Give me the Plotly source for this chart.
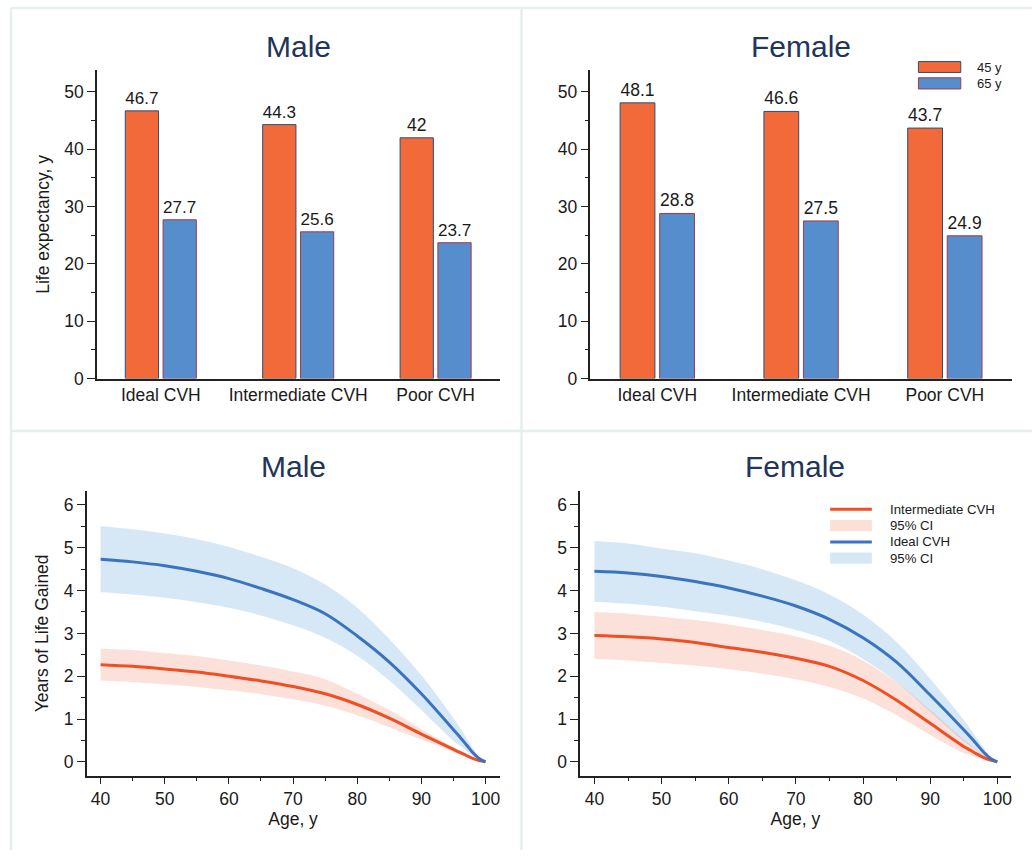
import plotly.graph_objects as go

# ---------------- data ----------------
categories = ["Ideal CVH", "Intermediate CVH", "Poor CVH"]
male_45 = [46.7, 44.3, 42]
male_65 = [27.7, 25.6, 23.7]
female_45 = [48.1, 46.6, 43.7]
female_65 = [28.8, 27.5, 24.9]

ages = [40, 45, 50, 55, 60, 65, 70, 75, 80, 85, 90, 95, 96, 97, 98, 99, 100]

male_ideal = [4.73, 4.67, 4.58, 4.45, 4.28, 4.05, 3.79, 3.46, 2.94, 2.33, 1.59, 0.75, 0.58, 0.40, 0.22, 0.08, 0]
male_ideal_hi = [5.50, 5.43, 5.33, 5.20, 5.02, 4.79, 4.52, 4.14, 3.60, 2.87, 2.02, 1.02, 0.80, 0.56, 0.33, 0.12, 0]
male_ideal_lo = [3.96, 3.91, 3.83, 3.73, 3.60, 3.42, 3.19, 2.90, 2.48, 1.90, 1.21, 0.49, 0.38, 0.26, 0.14, 0.05, 0]
male_inter = [2.27, 2.23, 2.17, 2.10, 2.00, 1.89, 1.76, 1.59, 1.34, 1.02, 0.65, 0.29, 0.22, 0.15, 0.08, 0.03, 0]
male_inter_hi = [2.65, 2.61, 2.54, 2.47, 2.37, 2.25, 2.11, 1.93, 1.59, 1.21, 0.77, 0.34, 0.26, 0.18, 0.10, 0.04, 0]
male_inter_lo = [1.90, 1.86, 1.81, 1.75, 1.67, 1.58, 1.46, 1.31, 1.09, 0.81, 0.52, 0.23, 0.17, 0.12, 0.07, 0.02, 0]

female_ideal = [4.45, 4.41, 4.33, 4.21, 4.06, 3.87, 3.64, 3.33, 2.90, 2.33, 1.56, 0.75, 0.58, 0.40, 0.22, 0.08, 0]
female_ideal_hi = [5.16, 5.10, 4.98, 4.87, 4.70, 4.50, 4.24, 3.91, 3.44, 2.80, 1.94, 0.98, 0.77, 0.54, 0.32, 0.12, 0]
female_ideal_lo = [3.74, 3.69, 3.62, 3.52, 3.41, 3.27, 3.08, 2.83, 2.40, 1.86, 1.17, 0.48, 0.37, 0.25, 0.13, 0.04, 0]
female_inter = [2.95, 2.92, 2.87, 2.79, 2.67, 2.56, 2.42, 2.23, 1.90, 1.44, 0.90, 0.36, 0.27, 0.18, 0.10, 0.04, 0]
female_inter_hi = [3.50, 3.46, 3.39, 3.31, 3.21, 3.08, 2.93, 2.71, 2.37, 1.86, 1.21, 0.52, 0.40, 0.27, 0.15, 0.05, 0]
female_inter_lo = [2.40, 2.37, 2.31, 2.25, 2.16, 2.06, 1.93, 1.75, 1.48, 1.09, 0.63, 0.21, 0.16, 0.10, 0.06, 0.02, 0]

bar_series = ["45 y", "65 y"]
curve_legend = ["Intermediate CVH", "95% CI", "Ideal CVH", "95% CI"]

# ---------------- style ----------------
W, H = 1033, 860
FONT = "Liberation Sans, Arial, Helvetica, sans-serif"
C_ORANGE_BAR = "#F26A3A"
C_BLUE_BAR = "#568ECD"
C_ORANGE_EDGE = "#2E4D73"
C_BLUE_EDGE = "#A03A4C"
C_LINE_OR = "#F04E23"
C_LINE_BL = "#3B73BF"
C_BAND_OR = "rgba(243,120,85,0.22)"
C_BAND_BL = "rgba(90,165,220,0.25)"
TITLE_COLOR = "#22345A"
AX = "#222222"
SMOOTH = 1.0


def fx(p):
    return p / W


def fy(p):
    return (H - p) / H


fig = go.Figure()

# ---------- bars ----------
for (v45, v65, xa, ya) in [(male_45, male_65, "x", "y"), (female_45, female_65, "x2", "y2")]:
    fig.add_trace(go.Bar(x=categories, y=v45, name=bar_series[0], xaxis=xa, yaxis=ya,
                         marker=dict(color=C_ORANGE_BAR, line=dict(color=C_ORANGE_EDGE, width=1)),
                         text=[f"{v:g}" for v in v45], textposition="outside",
                         textfont=dict(size=17.5, color="#1a1a1a", family=FONT),
                         cliponaxis=False, showlegend=False))
    fig.add_trace(go.Bar(x=categories, y=v65, name=bar_series[1], xaxis=xa, yaxis=ya,
                         marker=dict(color=C_BLUE_BAR, line=dict(color=C_BLUE_EDGE, width=1)),
                         text=[f"{v:g}" for v in v65], textposition="outside",
                         textfont=dict(size=17.5, color="#1a1a1a", family=FONT),
                         cliponaxis=False, showlegend=False))

# ---------- curves ----------
def add_band(lo, hi, color, xa, ya, name):
    fig.add_trace(go.Scatter(x=ages, y=lo, mode="lines", line=dict(width=0, shape="spline", smoothing=SMOOTH),
                             xaxis=xa, yaxis=ya, showlegend=False, hoverinfo="skip"))
    fig.add_trace(go.Scatter(x=ages, y=hi, mode="lines", line=dict(width=0, shape="spline", smoothing=SMOOTH),
                             fill="tonexty", fillcolor=color, xaxis=xa, yaxis=ya,
                             name=name, showlegend=False))


def add_line(v, color, xa, ya, name):
    fig.add_trace(go.Scatter(x=ages, y=v, mode="lines",
                             line=dict(color=color, width=3, shape="spline", smoothing=SMOOTH),
                             xaxis=xa, yaxis=ya, name=name, showlegend=False))


for (ih, il, im, dh, dl, dm, xa, ya) in [
    (male_inter_hi, male_inter_lo, male_inter, male_ideal_hi, male_ideal_lo, male_ideal, "x3", "y3"),
    (female_inter_hi, female_inter_lo, female_inter, female_ideal_hi, female_ideal_lo, female_ideal, "x4", "y4"),
]:
    add_band(dl, dh, C_BAND_BL, xa, ya, "95% CI")
    add_band(il, ih, C_BAND_OR, xa, ya, "95% CI")
    add_line(im, C_LINE_OR, xa, ya, "Intermediate CVH")
    add_line(dm, C_LINE_BL, xa, ya, "Ideal CVH")

# ---------- axes ----------
tickfont = dict(size=17.5, color="#1a1a1a", family=FONT)
titlefont = dict(size=17.5, color="#1a1a1a", family=FONT)

bar_x_common = dict(type="category", range=[-0.465, 2.465], showline=True, linecolor=AX, linewidth=1.5,
                    ticks="", showgrid=False, zeroline=False, tickfont=tickfont, fixedrange=True)
bar_y_common = dict(range=[0, 53.8], showline=True, linecolor=AX, linewidth=1.5, ticks="outside",
                    ticklen=8, tickwidth=1.3, tickcolor=AX, dtick=10, tick0=0,
                    minor=dict(dtick=5, ticklen=4, ticks="outside", tickcolor=AX, tickwidth=1.3),
                    showgrid=False, zeroline=False, tickfont=tickfont)

curve_x_common = dict(showline=True, linecolor=AX, linewidth=1.5, ticks="outside", ticklen=7, tickwidth=1.3,
                      tickcolor=AX, dtick=10, tick0=0,
                      minor=dict(dtick=5, ticklen=4, ticks="outside", tickcolor=AX, tickwidth=1.3),
                      showgrid=False, zeroline=False, tickfont=tickfont,
                      title=dict(text="Age, y", font=titlefont, standoff=4))
curve_y_common = dict(range=[-0.32, 6.32], showline=True, linecolor=AX, linewidth=1.5, ticks="outside",
                      ticklen=8, tickwidth=1.3, tickcolor=AX, dtick=1, tick0=0,
                      minor=dict(dtick=0.5, ticklen=4, ticks="outside", tickcolor=AX, tickwidth=1.3),
                      showgrid=False, zeroline=False, tickfont=tickfont)

fig.update_layout(
    xaxis=dict(domain=[fx(97), fx(500)], anchor="y", **bar_x_common),
    yaxis=dict(domain=[fy(383), fy(71)], anchor="x",
               title=dict(text="Life expectancy, y", font=titlefont, standoff=10), **bar_y_common),
    xaxis2=dict(domain=[fx(591), fx(1012.7)], anchor="y2", **bar_x_common),
    yaxis2=dict(domain=[fy(383), fy(71)], anchor="x2", **bar_y_common),
    xaxis3=dict(domain=[fx(86.7), fx(500)], anchor="y3", range=[37.82, 102.18], **curve_x_common),
    yaxis3=dict(domain=[fy(784.7), fy(497)], anchor="x3",
                title=dict(text="Years of Life Gained", font=titlefont, standoff=10), **curve_y_common),
    xaxis4=dict(domain=[fx(580.7), fx(1011.7)], anchor="y4", range=[37.87, 102.0], **curve_x_common),
    yaxis4=dict(domain=[fy(784.7), fy(497)], anchor="x4", **curve_y_common),
    barmode="group", bargap=0.45, bargroupgap=0.12,
    width=W, height=H, margin=dict(l=0, r=0, t=0, b=0),
    paper_bgcolor="white", plot_bgcolor="white",
    font=dict(family=FONT, color="#1a1a1a"),
    showlegend=False,
)

# ---------- panel frames ----------
frame = dict(type="line", xref="paper", yref="paper", line=dict(color="#E6EFEE", width=2.5), layer="below")
shapes = [
    dict(x0=fx(11), x1=fx(11), y0=fy(8), y1=fy(860), **frame),
    dict(x0=fx(522), x1=fx(522), y0=fy(8), y1=fy(860), **frame),
    dict(x0=fx(11), x1=fx(1033), y0=fy(8), y1=fy(8), **frame),
    dict(x0=fx(11), x1=fx(1033), y0=fy(436), y1=fy(436), **frame),
]

# ---------- custom legends ----------
annotations = []
leg_rows = [(62.3, 73.3, C_ORANGE_BAR, C_ORANGE_EDGE), (78.7, 90.0, C_BLUE_BAR, C_BLUE_EDGE)]
for name, (t, b, fc, ec) in zip(bar_series, leg_rows):
    shapes.append(dict(type="rect", xref="paper", yref="paper", x0=fx(919.3), x1=fx(961.7),
                       y0=fy(b), y1=fy(t), fillcolor=fc, line=dict(color=ec, width=1)))
    annotations.append(dict(text=name, xref="paper", yref="paper", x=fx(976), y=fy((t + b) / 2),
                            xanchor="left", yanchor="middle", showarrow=False,
                            font=dict(size=13, color="#1a1a1a", family=FONT)))
rows_y = [515.3, 531.8, 548.3, 564.7]
kinds = [("line", C_LINE_OR), ("rect", "#FBE0D8"), ("line", C_LINE_BL), ("rect", "#D6E8F5")]
for name, yy, (kind, col) in zip(curve_legend, rows_y, kinds):
    if kind == "line":
        shapes.append(dict(type="line", xref="paper", yref="paper", x0=fx(831), x1=fx(872.7),
                           y0=fy(yy), y1=fy(yy), line=dict(color=col, width=3)))
    else:
        shapes.append(dict(type="rect", xref="paper", yref="paper", x0=fx(831), x1=fx(872.7),
                           y0=fy(yy + 5.8), y1=fy(yy - 5.8), fillcolor=col, line=dict(width=0)))
    annotations.append(dict(text=name, xref="paper", yref="paper", x=fx(889), y=fy(yy),
                            xanchor="left", yanchor="middle", showarrow=False,
                            font=dict(size=13.2, color="#1a1a1a", family=FONT)))

# ---------- panel titles ----------
for txt, x, y in [("Male", 298.5, 47), ("Female", 802, 47), ("Male", 293.3, 472), ("Female", 796, 472)]:
    annotations.append(dict(text=txt, xref="paper", yref="paper", x=fx(x), y=fy(y),
                            xanchor="center", yanchor="middle", showarrow=False,
                            font=dict(size=30, color=TITLE_COLOR, family=FONT)))

fig.update_layout(shapes=shapes, annotations=annotations)

fig.write_html("out.html", config={"displayModeBar": False},
               post_script="document.body.style.margin='0';document.body.style.overflow='hidden';")
